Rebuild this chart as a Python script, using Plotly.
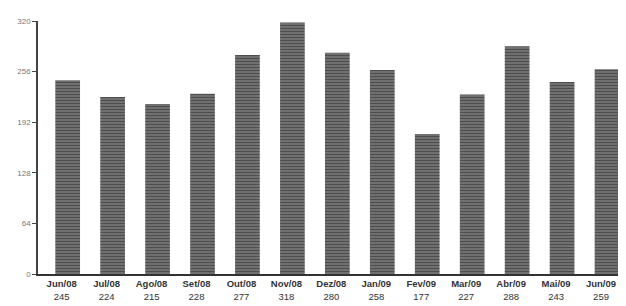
import plotly.graph_objects as go

months = ["Jun/08", "Jul/08", "Ago/08", "Set/08", "Out/08", "Nov/08",
          "Dez/08", "Jan/09", "Fev/09", "Mar/09", "Abr/09", "Mai/09", "Jun/09"]
values = [245, 224, 215, 228, 277, 318, 280, 258, 177, 227, 288, 243, 259]
y_ticks = [0, 64, 128, 192, 256, 320]

x = list(range(len(months)))
ticktext = [f"<b>{m}</b><br>{v}" for m, v in zip(months, values)]

fig = go.Figure(go.Bar(
    x=x, y=values, width=0.55,
    marker=dict(color="#5a5a5a", line=dict(width=0),
                pattern=dict(shape="-", fgcolor="#222222", bgcolor="#7a7a7a",
                             size=3, solidity=0.5)),
))

fig.update_layout(
    width=626, height=306,
    margin=dict(l=30, r=0, t=13, b=40),
    paper_bgcolor="white", plot_bgcolor="white",
    showlegend=False,
    font=dict(family="Liberation Sans, Arial, sans-serif", color="#333"),
)
fig.update_xaxes(
    range=[-0.66, 12.6], tickmode="array", tickvals=x, ticktext=ticktext,
    showline=True, linecolor="#333", linewidth=1.5, ticks="",
    showgrid=False, tickfont=dict(size=9.5, color="#333"), zeroline=False,
    ticklabelshift=-6,
)
fig.update_yaxes(
    range=[0, 320], tickmode="array", tickvals=y_ticks,
    ticktext=[str(t) for t in y_ticks],
    showline=True, linecolor="#444", linewidth=1.5, ticks="outside",
    ticklen=4, tickcolor="#444", showgrid=False, zeroline=False,
    tickfont=dict(size=8, color="#777"),
)

fig.write_html("out.html")
